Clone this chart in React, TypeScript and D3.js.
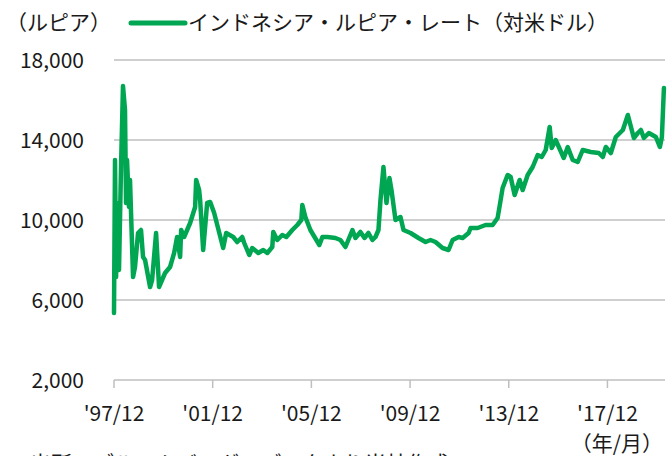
import * as d3 from "d3";

const dates = [
  "1997-12-01", "1997-12-16", "1998-01-01", "1998-01-14", "1998-02-13", "1998-03-15", "1998-04-13",
  "1998-05-13", "1998-05-28", "1998-06-12", "1998-07-11", "1998-07-26", "1998-09-09", "1998-10-08",
  "1998-11-22", "1999-01-05", "1999-02-04", "1999-03-06", "1999-05-19", "1999-06-18", "1999-08-16",
  "1999-09-29", "1999-12-27", "2000-03-10", "2000-05-09", "2000-06-22", "2000-08-06", "2000-08-21",
  "2000-10-04", "2001-01-01", "2001-03-16", "2001-03-31", "2001-05-14", "2001-05-29", "2001-07-13",
  "2001-09-10", "2001-10-25", "2001-12-23", "2002-05-05", "2002-06-19", "2002-10-01", "2002-11-29",
  "2003-02-11", "2003-03-13", "2003-05-26", "2003-07-10", "2003-10-07", "2003-12-20", "2004-02-17",
  "2004-05-01", "2004-05-16", "2004-07-14", "2004-09-26", "2004-11-25", "2005-02-22", "2005-05-07",
  "2005-07-05", "2005-07-20", "2005-09-03", "2005-11-16", "2006-03-29", "2006-05-13", "2006-07-27",
  "2006-11-21", "2007-02-04", "2007-04-19", "2007-08-01", "2007-09-14", "2007-11-27", "2008-01-26",
  "2008-03-25", "2008-05-23", "2008-07-07", "2008-08-20", "2008-09-19", "2008-11-02", "2008-12-17",
  "2009-01-30", "2009-03-01", "2009-04-29", "2009-07-12", "2009-08-26", "2009-12-08", "2010-04-05",
  "2010-07-18", "2010-09-30", "2010-12-13", "2011-03-27", "2011-06-24", "2011-08-23", "2011-11-20",
  "2012-01-18", "2012-04-16", "2012-05-15", "2012-08-27", "2012-12-23", "2013-04-06", "2013-06-19",
  "2013-08-03", "2013-09-01", "2013-11-14", "2013-12-29", "2014-02-26", "2014-05-11", "2014-06-25",
  "2014-09-07", "2014-11-20", "2015-02-02", "2015-04-03", "2015-06-01", "2015-07-30", "2015-08-29",
  "2015-10-27", "2016-02-23", "2016-04-22", "2016-07-05", "2016-09-17", "2016-11-30", "2017-03-29",
  "2017-07-26", "2017-09-23", "2017-11-07", "2018-01-20", "2018-04-04", "2018-07-17", "2018-09-29",
  "2018-12-27", "2019-02-24", "2019-04-10", "2019-05-24", "2019-08-06", "2019-11-18", "2020-01-16",
  "2020-02-15", "2020-03-16",
];

const rates = [
  5350, 13000, 7150, 10850, 7500, 12650, 16700,
  15500, 10850, 13000, 10650, 12000, 7150, 7650,
  9350, 9500, 8150, 8000, 6650, 7000, 9350,
  6650, 7350, 7650, 8350, 9150, 8150, 9500,
  9150, 9850, 10650, 12000, 11500, 11000, 8500,
  10850, 10900, 10350, 8600, 9350, 9150, 8900,
  9150, 8850, 8250, 8600, 8350, 8500, 8350,
  8650, 9400, 9000, 9250, 9150, 9500, 9750,
  10000, 10750, 10150, 9500, 8750, 9150, 9150,
  9100, 9000, 8650, 9500, 9100, 9400, 9100,
  9350, 9000, 9150, 9500, 11000, 12650, 10850,
  12100, 11500, 10000, 10150, 9500, 9350, 9100,
  8900, 9000, 8900, 8600, 8500, 9000, 9150,
  9100, 9350, 9600, 9600, 9750, 9750, 10100,
  11000, 11600, 12250, 12150, 11250, 12000, 11500,
  12250, 12650, 13250, 13150, 13500, 14650, 13600,
  14000, 13100, 13650, 13000, 12900, 13500, 13400,
  13350, 13150, 13650, 13350, 14150, 14500, 15250,
  14100, 14350, 14500, 14100, 14350, 14150, 13650,
  14150, 16600,
];

const yTicks = [2000, 6000, 10000, 14000, 18000];
const xTickDates = ["1997-12-01", "2001-12-01", "2005-12-01", "2009-12-01", "2013-12-01", "2017-12-01"];
const xTickLabels = ["'97/12", "'01/12", "'05/12", "'09/12", "'13/12", "'17/12"];

const seriesName = "インドネシア・ルピア・レート（対米ドル）";
const yUnit = "（ルピア）";
const xUnit = "（年/月）";
const source = "出所：ブルームバーグのデータより当社作成";

const W = 669;
const H = 456;
const left = 114;
const right = 665;
const top = 60;
const bottom = 380;
const font = "'Noto Sans CJK JP', 'Noto Sans', sans-serif";
const green = "#00a651";
const gridColor = "#bfbfbf";

export default function App() {
  const parse = d3.timeParse("%Y-%m-%d");
  const data = dates.map((d, i) => ({ date: parse(d) as Date, value: rates[i] }));

  const x = d3
    .scaleTime()
    .domain([parse("1997-12-01") as Date, parse("2020-04-01") as Date])
    .range([left, right]);
  const y = d3.scaleLinear().domain([2000, 18000]).range([bottom, top]);

  const line = d3
    .line<{ date: Date; value: number }>()
    .x((d) => x(d.date))
    .y((d) => y(d.value));

  return (
    <div style={{ position: "absolute", left: 0, top: 0 }}>
      <svg width={W} height={H} style={{ display: "block", fontFamily: font }}>
        <rect width={W} height={H} fill="#ffffff" />

        {/* horizontal grid */}
        {yTicks.map((t) => (
          <line key={"g" + t} x1={left} x2={right} y1={y(t)} y2={y(t)} stroke={gridColor} strokeWidth={1.5} />
        ))}

        {/* y labels */}
        {yTicks.map((t) => (
          <text key={"yl" + t} x={84} y={y(t) + 7.5} textAnchor="end" fontSize={21} fill="#1a1a1a">
            {d3.format(",")(t)}
          </text>
        ))}

        {/* x ticks and labels */}
        {xTickDates.map((d, i) => {
          const px = x(parse(d) as Date);
          return (
            <g key={"xt" + d}>
              <line x1={px} x2={px} y1={bottom} y2={bottom + 8} stroke={gridColor} strokeWidth={1.5} />
              <text x={px} y={421} textAnchor="middle" fontSize={21} fill="#1a1a1a">
                {xTickLabels[i]}
              </text>
            </g>
          );
        })}

        <path
          d={line(data) ?? ""}
          fill="none"
          stroke={green}
          strokeWidth={4.5}
          strokeLinejoin="round"
          strokeLinecap="round"
        />

        {/* legend */}
        <text x={6} y={30} fontSize={21} fill="#1a1a1a">
          {yUnit}
        </text>
        <line x1={131} x2={185} y1={23} y2={23} stroke={green} strokeWidth={5} strokeLinecap="round" />
        <text x={188} y={30} fontSize={21} fill="#1a1a1a">
          {seriesName}
        </text>

        <text x={663} y={451} textAnchor="end" fontSize={21} fill="#1a1a1a">
          {xUnit}
        </text>
        {/* source note, clipped by the bottom edge as in the original */}
        <text x={30} y={471} fontSize={21} fill="#1a1a1a">
          {source}
        </text>
      </svg>
    </div>
  );
}
